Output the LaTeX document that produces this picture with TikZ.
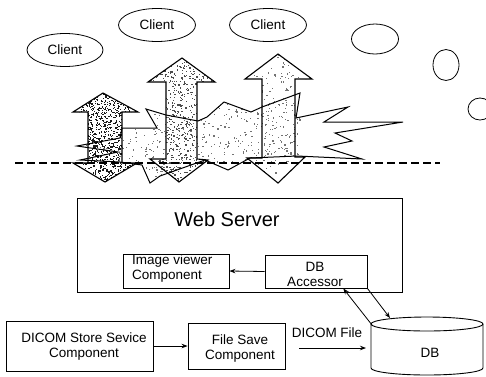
\documentclass[tikz,border=0pt]{standalone}
\usepackage{fontspec}
\setmainfont{Liberation Sans}
\usetikzlibrary{shapes.geometric,arrows.meta,calc}
\newcommand{\mystipple}[6]{%
  \foreach \k in {1,...,#1}{%
    \pgfmathsetmacro{\sx}{#2+rnd*#4}%
    \pgfmathsetmacro{\sy}{#3+rnd*#5}%
    \pgfmathsetmacro{\sw}{0.6+rnd*1.2}%
    \pgfmathsetmacro{\sh}{0.6+rnd*1.0}%
    \fill[#6] (\sx,\sy) rectangle ++(\sw,\sh);
  }}
\begin{document}
\begin{tikzpicture}[x=1pt,y=-1pt,
  ell/.style={draw,ellipse,line width=0.8pt,inner sep=0pt,font=\fontsize{13.5}{15}\selectfont},
  comp/.style={draw,line width=0.9pt,inner sep=0pt},
  lbl/.style={font=\fontsize{13.5}{15}\selectfont,inner sep=0pt,align=center},
  conn/.style={line width=0.8pt,-{Stealth[length=6pt,width=4.5pt]}},
  bigarrow/.style={draw,line width=1.1pt,line join=miter},
  burst/.style={draw,line width=1pt,line join=miter},
  dashline/.style={line width=1.3pt,dash pattern=on 8pt off 4pt},
]
\useasboundingbox (0,0) rectangle (486,376);
\pgfmathsetseed{11}

% clients
\node[ell, minimum width=76, minimum height=33] (c1) at (65,50) {Client};
\node[ell, minimum width=77, minimum height=33] (c2) at (157,25) {Client};
\node[ell, minimum width=77, minimum height=33] (c3) at (268,25) {Client};
\node[ell, minimum width=47, minimum height=30] (e1) at (375,39) {};
\node[ell, minimum width=26, minimum height=31] (e2) at (446,65) {};
\node[ell, minimum width=24, minimum height=22] (e3) at (480,109) {};

% shapes
\path[save path=\pathX] (122,128) -- (157,128) -- (146,109) -- (166,115) -- (198,121) -- (207,117) -- (224,102) -- (251,112) -- (262,107) -- (300,93) -- (296,118) -- (348,107) -- (324,122) -- (403,122) -- (335,133) -- (352,141) -- (324,147) -- (362,159) -- (297,156) -- (250,158) -- (228,170) -- (205,160) -- (160,176) -- (150,183) -- (142,165) -- (120,162) -- (80,160) -- (118,152) -- (77,146) -- (120,138) -- cycle;
\path[save path=\pathL] (103,93) -- (138,112) -- (122,112) -- (122,163) -- (137,163) -- (105,182) -- (73,163) -- (88,163) -- (88,112) -- (73,112) -- cycle;
\path[save path=\pathM] (182,58) -- (215,82) -- (197,82) -- (197,159) -- (208,160) -- (179,182) -- (150,159) -- (166,159) -- (166,82) -- (148,82) -- cycle;
\path[save path=\pathR] (278,54) -- (312,79) -- (295,79) -- (295,157) -- (305,157) -- (278,183) -- (247,158) -- (262,158) -- (262,79) -- (245,79) -- cycle;

\begin{scope}
  \clip[use path=\pathX];
  \mystipple{600}{77}{93}{223}{90}{black!55}
\end{scope}
\begin{scope}
  \clip[use path=\pathL];
  \mystipple{1200}{73}{93}{65}{89}{black!90}
\end{scope}
\begin{scope}
  \clip[use path=\pathM];
  \mystipple{900}{148}{58}{67}{124}{black!70}
\end{scope}
\begin{scope}
  \clip[use path=\pathR];
  \mystipple{260}{245}{54}{67}{129}{black!55}
\end{scope}

\path[bigarrow, use path=\pathL];
\path[bigarrow, use path=\pathM];
\path[bigarrow, use path=\pathR];
\path[burst, use path=\pathX];

\coordinate (dl) at (15,163);
\coordinate (dr) at (440,163);
\draw[dashline] (dl) -- (dr);

% web server
\node[comp, minimum width=325, minimum height=94] (web) at (239.5,245) {};
\node[font=\fontsize{20}{22}\selectfont, inner sep=0pt] (webt) at (227,219) {Web Server};
\node[comp, minimum width=106, minimum height=34] (imgv) at (176,271) {};
\node[lbl, align=left, anchor=west] (imgvt) at (132,268.5) {Image viewer\\Component};
\node[comp, minimum width=102, minimum height=33] (acc) at (316,271.5) {};
\node[lbl] (acct) at (315,274.5) {DB\\Accessor};

% bottom row
\node[comp, minimum width=147, minimum height=50] (dicom) at (79.5,346) {};
\node[lbl] (dicomt) at (84,346) {DICOM Store Sevice\\Component};
\node[comp, minimum width=97, minimum height=46] (fsave) at (236.5,346) {};
\node[lbl] (fsavet) at (240,348) {File Save\\Component};

% DB cylinder
\draw[line width=0.9pt] (371,324) -- (371,368) arc[start angle=180, end angle=0, x radius=56, y radius=7] -- (483,324);
\draw[line width=0.9pt] (427,324) ellipse [x radius=56, y radius=7];
\node[lbl] (db) at (430,353) {DB};

% connectors
\coordinate (dbA) at (372,325);
\coordinate (dbB) at (390,318);
\draw[conn] (dbA) -- ($(acc.south west)!0.765!(acc.south east)$);
\draw[conn] (acc.south east) -- (dbB);
\draw[conn] (acc.west) -- (imgv.east);
\draw[conn] (dicom.east) -- (fsave.west);
\coordinate (dfA) at (299,348);
\coordinate (dfB) at (366,348);
\draw[conn] (dfA) -- (dfB);
\node[lbl] (dft) at (327,333) {DICOM File};
\end{tikzpicture}
\end{document}
